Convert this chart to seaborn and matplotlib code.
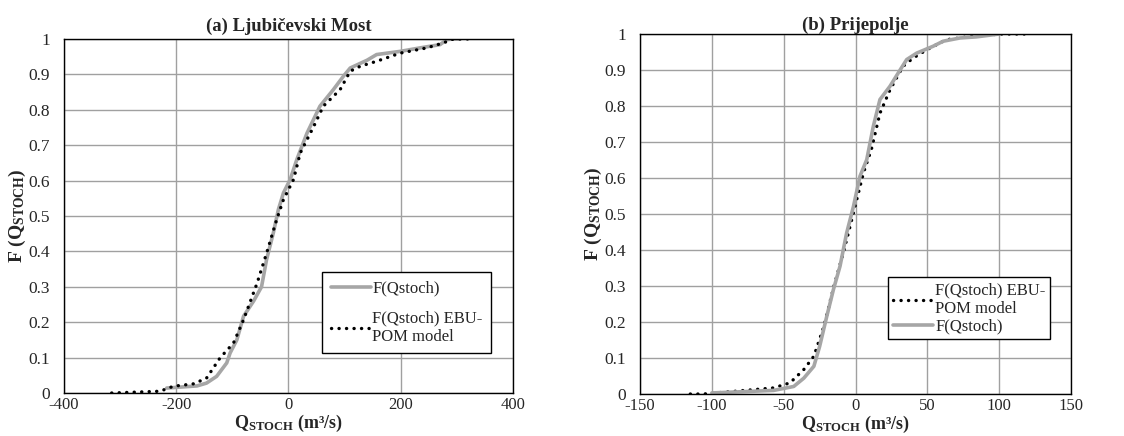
import numpy as np
import pandas as pd
import matplotlib
matplotlib.use("Agg")
import matplotlib.pyplot as plt
import seaborn as sns

# ECDF points, panel (a) Ljubicevski Most
a_obs_q = [-217, -190, -163, -146, -128, -110, -104, -92, -80, -62, -48, -39, -27, -18, -9, 3, 15, 33,
           56, 80, 98, 110, 140, 157, 199, 235, 270, 282, 294, 306]
a_obs_f = [0.014, 0.017, 0.02, 0.028, 0.047, 0.085, 0.113, 0.15, 0.217, 0.26, 0.30, 0.377, 0.452, 0.518,
           0.565, 0.603, 0.66, 0.734, 0.81, 0.857, 0.895, 0.918, 0.94, 0.956, 0.965, 0.975, 0.984,
           0.998, 1.0, 1.0]
a_mod_q = [-315, -229, -205, -169, -146, -122, -98, -80, -56, -39, -21, -9, 9, 21, 45, 62, 92, 110,
           128, 157, 199, 247, 276, 294, 330]
a_mod_f = [0.0, 0.005, 0.019, 0.026, 0.042, 0.099, 0.141, 0.207, 0.31, 0.395, 0.49, 0.546, 0.603, 0.678,
           0.753, 0.81, 0.857, 0.909, 0.923, 0.937, 0.96, 0.975, 0.989, 1.0, 1.0]

# panel (b) Prijepolje
b_obs_q = [-100, -57, -43, -36, -29, -25, -20, -15.4, -10.8, -6.2, -1.5, 3.1, 7.8, 12.4, 17, 24, 31,
           35.6, 42.6, 54, 61, 72.7, 84, 100]
b_obs_f = [0.003, 0.01, 0.021, 0.044, 0.077, 0.132, 0.216, 0.29, 0.355, 0.447, 0.52, 0.605, 0.651, 0.744,
           0.818, 0.855, 0.90, 0.929, 0.947, 0.966, 0.98, 0.989, 0.992, 1.0]
b_mod_q = [-115, -106, -57, -45.6, -36, -29, -22, -15, -8.5, -3.8, -0.4, 5.5, 11, 17, 24, 33, 40, 49.5,
           63, 79.7, 100.6, 119]
b_mod_f = [0.0, 0.0, 0.017, 0.031, 0.068, 0.105, 0.188, 0.30, 0.392, 0.466, 0.52, 0.614, 0.679, 0.78,
           0.845, 0.91, 0.933, 0.956, 0.984, 0.993, 1.0, 1.0]

lbl_obs = "F(Qstoch)"
lbl_mod = "F(Qstoch) EBU-\nPOM model"

sns.set_style("white")
plt.rcParams["font.family"] = ["Liberation Serif", "DejaVu Serif"]
plt.rcParams["axes.unicode_minus"] = False
plt.rcParams["mathtext.fontset"] = "custom"
plt.rcParams["mathtext.rm"] = "Liberation Serif:bold"
plt.rcParams["mathtext.bf"] = "Liberation Serif:bold"
plt.rcParams["mathtext.it"] = "Liberation Serif:bold"

GREY = "#a6a6a6"
fig = plt.figure(figsize=(11.24, 4.36), dpi=100)
ax1 = fig.add_axes([0.0569, 0.0986, 0.3995, 0.812])
ax2 = fig.add_axes([0.5694, 0.0963, 0.3835, 0.8257])


def draw(ax, obs_q, obs_f, mod_q, mod_f, mod_first):
    obs = pd.DataFrame({"q": obs_q, "f": obs_f})
    mod = pd.DataFrame({"q": mod_q, "f": mod_f})
    dots = (0, (0.05, 2.2))
    order = [("mod", mod), ("obs", obs)] if mod_first else [("obs", obs), ("mod", mod)]
    for name, d in order:
        if name == "mod":
            sns.lineplot(data=d, x="q", y="f", ax=ax, color="black", lw=2.4, ls=dots,
                         dash_capstyle="round", sort=False, estimator=None, label=lbl_mod)
        else:
            sns.lineplot(data=d, x="q", y="f", ax=ax, color=GREY, lw=2.6,
                         sort=False, estimator=None, label=lbl_obs)
    ax.set_ylim(0, 1)
    ax.set_yticks(np.arange(0, 1.01, 0.1))
    ax.set_yticklabels(["0"] + ["%.1f" % v for v in np.arange(0.1, 0.95, 0.1)] + ["1"])
    ax.grid(True, color="#a0a0a0", lw=1)
    for s in ax.spines.values():
        s.set_color("black")
        s.set_linewidth(1)
    ax.tick_params(axis="both", labelsize=12.5, length=0)
    ax.tick_params(axis="x", labelsize=12, pad=3)
    ax.tick_params(axis="y", pad=10)
    ax.set_xlabel(r"Q$_{\mathrm{STOCH}}$ (m³/s)", fontsize=13, fontweight="bold", labelpad=0)
    ax.set_ylabel(r"F (Q$_{\mathrm{STOCH}}$)", fontsize=14, fontweight="bold", labelpad=0)


draw(ax1, a_obs_q, a_obs_f, a_mod_q, a_mod_f, False)
ax1.set_xlim(-400, 400)
ax1.set_xticks([-400, -200, 0, 200, 400])
ax1.set_title("(a) Ljubičevski Most", fontsize=13.5, fontweight="bold", pad=6)
ax1.legend(loc="upper left", bbox_to_anchor=(0.557, 0.364), fontsize=12, frameon=True,
           fancybox=False, edgecolor="black", handlelength=2.4, labelspacing=0.8,
           borderpad=0.5, handletextpad=0.1, framealpha=1).get_frame().set_linewidth(1)

draw(ax2, b_obs_q, b_obs_f, b_mod_q, b_mod_f, True)
ax2.set_xlim(-150, 150)
ax2.set_xticks([-150, -100, -50, 0, 50, 100, 150])
ax2.set_title("(b) Prijepolje", fontsize=13.5, fontweight="bold", pad=3)
ax2.legend(loc="upper left", bbox_to_anchor=(0.557, 0.347), fontsize=12, frameon=True,
           fancybox=False, edgecolor="black", handlelength=2.4, labelspacing=0.1,
           borderpad=0.3, handletextpad=0.1, framealpha=1).get_frame().set_linewidth(1)

fig.savefig("out.png", dpi=100)
